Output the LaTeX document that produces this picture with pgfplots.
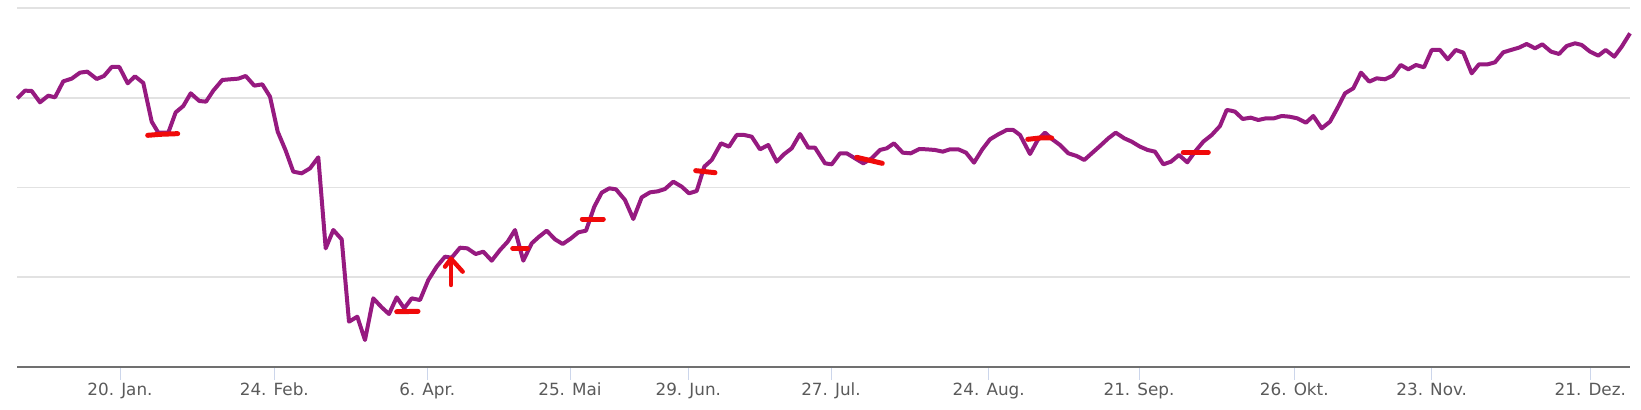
\documentclass[border=0pt]{standalone}
\usepackage{pgfplots}
\pgfplotsset{compat=1.18}
\usepackage{fontspec}
\setmainfont{DejaVu Sans}
\definecolor{lineP}{RGB}{150,26,128}
\definecolor{markR}{RGB}{240,10,10}
\definecolor{gridC}{RGB}{226,226,226}
\definecolor{axisC}{RGB}{112,112,112}
\definecolor{tickC}{RGB}{204,214,235}
\definecolor{labC}{RGB}{90,90,90}
\begin{document}
\begin{tikzpicture}
\begin{axis}[
  scale only axis,
  width=806.35bp, height=179.2bp,
  xmin=17.3, xmax=1630, ymin=0, ymax=1075,
  axis x line*=bottom, axis y line*=left,
  x axis line style={axisC, line width=1bp, -},
  y axis line style={draw=none},
  ytick={0,268.75,537.5,806.25,1075},
  yticklabels={},
  ytick style={draw=none},
  ymajorgrids,
  grid style={gridC, line width=0.8bp},
  xtick={120,274.3,427.3,570,688.3,831,988.7,1139,1294.3,1431.7,1590.3},
  xticklabels={20. Jan.,24. Feb.,6. Apr.,25. Mai,29. Jun.,27. Jul.,24. Aug.,21. Sep.,26. Okt.,23. Nov.,21. Dez.},
  tick align=outside,
  major tick length=6.5bp,
  xtick style={tickC, line width=0.5bp},
  tick label style={font=\fontsize{8.4bp}{10bp}\selectfont, text=labC},
  xticklabel style={yshift=2.1bp},
  clip=false,
]
\path (rel axis cs:0,0) coordinate (SW);
\addplot[lineP, line width=2bp, line join=round] table {
x y
17.3 805
25 828
31.7 827
40 793
48.3 813
55 808
63.3 856
71.7 864
80 882
87.3 885
96.7 863
104 872
111.7 899
119.3 899
127.7 850
135 871
143.3 851
151.7 735
158.3 702
163 702
168.3 702
175.7 763
183.3 782
190.7 820
199.3 797
206 795
213.3 828
222.3 860
230 862
238.3 864
245.7 872
254.3 843
262.3 847
270 810
277.7 705
285.7 648
293.3 585
301.7 580
310 595
318.3 628
325.7 355
333.3 410
341.7 382
349 135
357.3 150
365 80
373.3 205
381.7 178
389 158
396.7 208
404.3 175
411.7 205
420 200
428.3 260
436.7 300
445 330
451.7 327
460 357
467.3 355
475.7 338
483.3 345
491.7 318
500 350
507.7 375
515 410
523.3 318
531.7 370
538.3 388
546.7 408
555 382
562.7 368
571 385
578.3 403
586 408
594.3 480
601.7 522
609.3 535
616 532
625 500
633.3 443
641.7 508
650 523
657.7 526
665 533
673.3 555
681.7 540
689 520
696.7 527
704.3 600
711.7 620
721 670
729 660
736.7 695
744.3 695
751.7 690
760 652
768.3 665
776.7 615
784.3 638
791.7 655
800 698
808.3 657
815 657
825 610
831.7 607
840 640
846.7 640
855 625
863.3 610
871.7 625
880 650
886.7 655
894 670
902.7 642
910.7 640
919.3 653
926.7 652
935 650
942.7 645
950 652
958.3 652
966 642
974 612
982.3 652
990 682
998.3 697
1006.7 710
1013.3 710
1020 695
1030 638
1037.7 680
1045 702
1052.3 682
1060 665
1068.3 640
1076.7 632
1084.3 620
1091.7 640
1100 662
1108.3 685
1115.7 702
1124.3 685
1131.7 675
1140 660
1147.7 650
1155 645
1163.3 607
1171 615
1179 635
1187.3 613
1195 645
1203.3 675
1211.7 695
1220 722
1226.7 770
1231 768
1235 765
1242.7 743
1250.7 747
1258.3 740
1266 745
1274 745
1281.7 752
1289.3 750
1297.3 745
1306 732
1313.3 752
1321.7 715
1330 735
1337.3 775
1345 820
1353.3 835
1361 882
1369.3 855
1376.7 865
1385 862
1392.7 873
1400.7 905
1408.3 892
1416 905
1424 898
1431.7 950
1440 950
1447.7 922
1455.7 950
1463.3 942
1471.7 880
1479 907
1487.7 907
1495 913
1503.3 943
1511 950
1519 957
1526.7 968
1535 955
1542.3 967
1551 945
1559 938
1566.7 962
1575 970
1581.7 965
1590 945
1598.3 933
1605.7 950
1614.3 930
1621.7 960
1630 1000
};
\addplot[markR, line width=2.5bp, line cap=round] coordinates {(147.7,694) (160,697) (177.7,699)};
\addplot[markR, line width=2.5bp, line cap=round] coordinates {(396.7,165) (418,166)};
\addplot[markR, line width=2.2bp, line cap=round] coordinates {(451,245) (451,322)};
\addplot[markR, line width=2.2bp, line cap=round, line join=round] coordinates {(445,300) (451,324) (462.7,285)};
\addplot[markR, line width=2.5bp, line cap=round] coordinates {(512.7,355) (527.3,355)};
\addplot[markR, line width=2.5bp, line cap=round] coordinates {(582.3,443) (603.3,443)};
\addplot[markR, line width=2.5bp, line cap=round] coordinates {(695.7,588) (715,582)};
\addplot[markR, line width=2.5bp, line cap=round] coordinates {(856.7,628) (882.3,610)};
\addplot[markR, line width=2.5bp, line cap=round] coordinates {(1027.7,682) (1040,686) (1051.7,686)};
\addplot[markR, line width=2.5bp, line cap=round] coordinates {(1183.3,643) (1208.3,643)};
\end{axis}
\pgfresetboundingbox
\path[use as bounding box] (SW) ++(-8.65bp,-21.65bp) rectangle ++(820.5bp,205bp);
\end{tikzpicture}
\end{document}
